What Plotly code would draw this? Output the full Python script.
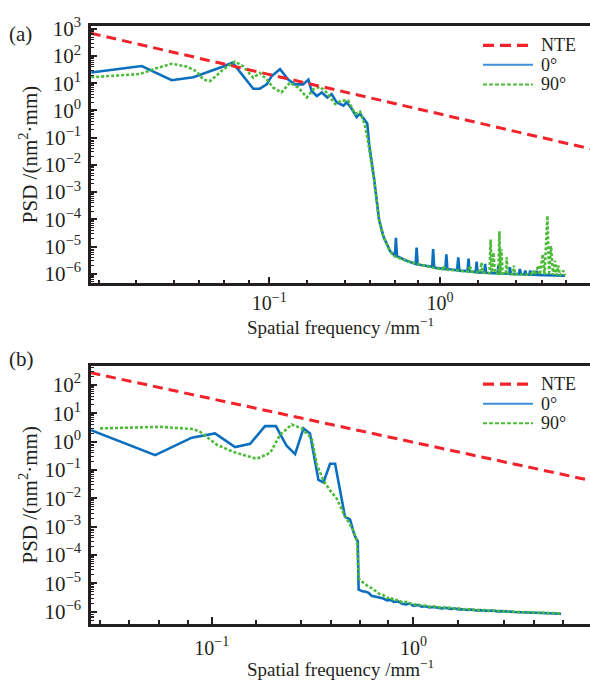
import plotly.graph_objects as go

# ---------------- panel (a) ----------------
nte_a_freq = [0.009, 7.6]
nte_a_psd = [692.0, 0.039]

a0_freq = [0.00905, 0.0179, 0.0268, 0.0359, 0.0537, 0.061, 0.0806, 0.088, 0.0966, 0.103,
           0.1156, 0.129, 0.1416, 0.158, 0.1695, 0.177, 0.19, 0.203, 0.219, 0.232,
           0.248, 0.272, 0.284, 0.304, 0.325, 0.34, 0.352, 0.375, 0.385, 0.398,
           0.41, 0.426, 0.44, 0.466, 0.51, 0.545, 0.552, 0.56, 0.638, 0.72,
           0.73, 0.74, 0.8, 0.9, 0.912, 0.925, 1.075, 1.09, 1.105, 1.26,
           1.28, 1.30, 1.45, 1.47, 1.49, 1.62, 1.64, 1.66, 1.82, 1.84,
           1.86, 2.17, 2.2, 2.23, 2.54, 2.57, 2.6, 2.9, 2.94, 2.98,
           3.12, 3.16, 3.2, 3.34, 3.38, 3.42, 3.64, 3.68, 3.72, 4.0,
           4.6, 5.4]
a0_psd = [25, 43, 12.9, 16.6, 41, 57, 6.3, 6.3, 9.1, 18,
          33, 13.7, 9.1, 9.1, 13.7, 5.2, 3.4, 4.6, 3.0, 4.0,
          2.0, 1.5, 2.0, 1.15, 0.57, 0.76, 0.57, 0.33, 0.055, 0.0138,
          3.5e-3, 5e-4, 9.5e-5, 2.4e-5, 6.9e-6, 4.6e-6, 2.1e-5, 4.4e-6, 3.0e-6, 2.3e-6,
          9.1e-6, 2.2e-6, 2.0e-6, 1.8e-6, 8.0e-6, 1.7e-6, 1.5e-6, 5.2e-6, 1.5e-6, 1.35e-6,
          4.0e-6, 1.3e-6, 1.25e-6, 3.6e-6, 1.2e-6, 1.15e-6, 2.8e-6, 1.12e-6, 1.1e-6, 2.3e-6,
          1.08e-6, 1.03e-6, 2.0e-6, 1.02e-6, 1.0e-6, 1.74e-6, 0.98e-6, 0.97e-6, 1.5e-6, 0.96e-6,
          0.95e-6, 1.3e-6, 0.94e-6, 0.93e-6, 1.3e-6, 0.93e-6, 0.92e-6, 1.3e-6, 0.91e-6, 0.9e-6,
          0.88e-6, 0.85e-6]

a90_freq = [0.00905, 0.0175, 0.0219, 0.0268, 0.0328, 0.0376, 0.041, 0.045, 0.0537, 0.063,
            0.0705, 0.0806, 0.088, 0.0966, 0.1055, 0.118, 0.132, 0.148, 0.166, 0.181,
            0.198, 0.217, 0.243, 0.265, 0.29, 0.318, 0.34, 0.363, 0.378, 0.39,
            0.40, 0.412, 0.427, 0.44, 0.466, 0.51, 0.545, 0.6, 0.7, 0.8,
            0.9, 1.0, 1.03, 1.05, 1.07, 1.3, 1.48, 1.5, 1.52, 1.72,
            1.75, 1.78, 1.95, 1.98, 2.01, 2.06, 2.1, 2.2, 2.23, 2.26,
            2.29, 2.33, 2.43, 2.46, 2.5, 2.68, 2.71, 2.75, 3.4, 3.52,
            3.6, 3.77, 3.85, 4.0, 4.1, 4.26, 4.36, 4.47, 4.6, 4.72,
            4.82, 4.93, 5.05, 5.28, 5.4]
a90_psd = [16.6, 22, 36, 52, 41, 27, 13.7, 12, 32, 63,
           41, 15.8, 24, 13.7, 6.9, 4.6, 10.5, 6.9, 3.0, 6.0,
           7.4, 4.6, 1.73, 2.3, 2.3, 0.76, 0.91, 0.29, 0.08, 0.02,
           8e-3, 2.8e-3, 4.5e-4, 9e-5, 2.3e-5, 6.5e-6, 4.3e-6, 3.4e-6, 2.5e-6, 2.0e-6,
           1.7e-6, 1.5e-6, 1.45e-6, 2.0e-6, 1.42e-6, 1.3e-6, 1.2e-6, 2.0e-6, 1.2e-6, 1.1e-6,
           2.6e-6, 1.1e-6, 1.05e-6, 1.8e-5, 1.1e-6, 6e-6, 1.05e-6, 1.0e-6, 3.6e-5, 1.0e-6,
           7.9e-6, 1.0e-6, 1.0e-6, 4e-6, 1.0e-6, 0.97e-6, 2e-6, 0.97e-6, 0.92e-6, 1.3e-6,
           0.92e-6, 2e-6, 0.92e-6, 5.2e-6, 0.9e-6, 1.35e-4, 0.9e-6, 1.05e-5, 0.9e-6, 3e-6,
           0.88e-6, 2e-6, 0.87e-6, 1.3e-6, 0.85e-6]

# ---------------- panel (b) ----------------
nte_b_freq = [0.025, 7.6]
nte_b_psd = [270.0, 0.042]

tail_freq = [0.56, 0.58, 0.6, 0.62, 0.65, 0.68, 0.71, 0.74, 0.77, 0.8,
             0.84, 0.88, 0.92, 0.96, 1.0, 1.05, 1.1, 1.15, 1.2, 1.26,
             1.32, 1.38, 1.45, 1.52, 1.6, 1.68, 1.76, 1.85, 1.94, 2.04,
             2.14, 2.25, 2.36, 2.48, 2.6, 2.73, 2.87, 3.0, 3.15, 3.3,
             3.47, 3.64, 3.82, 4.0, 4.2, 4.4, 4.62, 4.85, 5.1, 5.4]

b0_freq = [0.0252, 0.0524, 0.0796, 0.1038, 0.1305, 0.155, 0.1837, 0.208, 0.235, 0.259,
           0.285, 0.307, 0.338, 0.358, 0.386, 0.409, 0.458, 0.485, 0.51, 0.53,
           0.535] + tail_freq
b0_psd = [2.5, 0.33, 1.37, 1.93, 0.64, 0.83, 3.5, 3.5, 0.71, 0.36,
          2.9, 1.93, 0.044, 0.036, 0.165, 0.165, 2.2e-3, 1.8e-3, 5e-4, 3e-4,
          6e-6,
          5.2e-6, 5.0e-6, 4.6e-6, 3.6e-6, 3.3e-6, 3.1e-6, 2.9e-6, 2.5e-6, 2.6e-6, 2.2e-6,
          2.3e-6, 1.9e-6, 1.8e-6, 1.95e-6, 1.6e-6, 1.7e-6, 1.5e-6, 1.55e-6, 1.4e-6, 1.45e-6,
          1.35e-6, 1.3e-6, 1.36e-6, 1.25e-6, 1.28e-6, 1.2e-6, 1.22e-6, 1.15e-6, 1.18e-6, 1.1e-6,
          1.13e-6, 1.08e-6, 1.06e-6, 1.1e-6, 1.02e-6, 1.04e-6, 0.99e-6, 1.0e-6, 0.97e-6, 0.96e-6,
          0.98e-6, 0.93e-6, 0.94e-6, 0.91e-6, 0.92e-6, 0.89e-6, 0.9e-6, 0.87e-6, 0.86e-6, 0.84e-6]

b90_freq = [0.0279, 0.0555, 0.081, 0.0875, 0.106, 0.128, 0.167, 0.195, 0.218, 0.249,
            0.279, 0.313, 0.332, 0.358, 0.386, 0.417, 0.45, 0.47, 0.50, 0.525,
            0.535] + tail_freq
b90_psd = [2.9, 3.3, 2.75, 2.2, 0.77, 0.43, 0.245, 0.40, 1.7, 4.0,
           2.9, 1.3, 0.157, 0.042, 0.019, 0.0097, 3e-3, 1.7e-3, 8e-4, 3e-4,
           1.5e-5,
           11e-6, 9e-6, 7.5e-6, 6.8e-6, 5.5e-6, 4.2e-6, 3.8e-6, 3.0e-6, 3.2e-6, 2.5e-6,
           2.6e-6, 2.1e-6, 2.2e-6, 2.0e-6, 1.75e-6, 1.85e-6, 1.6e-6, 1.65e-6, 1.5e-6, 1.55e-6,
           1.4e-6, 1.45e-6, 1.33e-6, 1.38e-6, 1.27e-6, 1.3e-6, 1.2e-6, 1.25e-6, 1.15e-6, 1.18e-6,
           1.1e-6, 1.14e-6, 1.07e-6, 1.1e-6, 1.04e-6, 1.06e-6, 1.0e-6, 1.02e-6, 0.98e-6, 0.99e-6,
           0.95e-6, 0.97e-6, 0.93e-6, 0.94e-6, 0.91e-6, 0.92e-6, 0.89e-6, 0.9e-6, 0.88e-6, 0.86e-6]

# ---------------- ticks and labels ----------------
y_exps = list(range(-6, 4))
x_major = [0.1, 1.0]
x_major_text = ["10<sup>−1</sup>", "10<sup>0</sup>"]
x_minor = [0.01, 0.0166, 0.0278, 0.039, 0.0545, 0.0765, 0.166, 0.276, 0.39, 0.545,
           0.745, 1.67, 2.8, 3.95, 5.5]
legend_labels = ["NTE", "0°", "90°"]
x_title = "Spatial frequency /mm<sup>−1</sup>"
y_title = "PSD /(nm<sup>2</sup>·mm)"

RED = "#f2232a"
BLUE = "#0b6fbf"
GREEN = "#4dbb3a"
INK = "#231f20"
FONT = "'Liberation Serif', 'Times New Roman', Times, serif"

W, H = 590, 680


def sup(e):
    return "10<sup>" + (str(e) if e >= 0 else "−" + str(-e)) + "</sup>"


y_minor = [k * 10.0 ** e for e in range(-7, 4) for k in range(2, 10)]

fig = go.Figure()

panels = [
    ("x", "y", nte_a_freq, nte_a_psd, a0_freq, a0_psd, a90_freq, a90_psd),
    ("x2", "y2", nte_b_freq, nte_b_psd, b0_freq, b0_psd, b90_freq, b90_psd),
]
for xa, ya, nf, npsd, f0, p0, f90, p90 in panels:
    fig.add_trace(go.Scatter(x=f0, y=p0, xaxis=xa, yaxis=ya, mode="lines",
                             line=dict(color=BLUE, width=2.6), name="0°", showlegend=False))
    fig.add_trace(go.Scatter(x=f90, y=p90, xaxis=xa, yaxis=ya, mode="lines",
                             line=dict(color=GREEN, width=2.6, dash="3px,2px"),
                             name="90°", showlegend=False))
    fig.add_trace(go.Scatter(x=nf, y=npsd, xaxis=xa, yaxis=ya, mode="lines",
                             line=dict(color=RED, width=3, dash="10px,6px"),
                             name="NTE", showlegend=False))


def xaxis_cfg(rng, anchor, label_gap):
    return dict(
        type="log", range=rng, domain=[91 / W, 1.0], anchor=anchor,
        showline=True, linecolor=INK, linewidth=2.5, mirror=True,
        showgrid=False, zeroline=False,
        ticks="inside", ticklen=7, tickwidth=2, tickcolor=INK,
        tickmode="array", tickvals=x_major, ticktext=x_major_text,
        tickfont=dict(family=FONT, size=20, color=INK),
        ticklabelstandoff=label_gap,
        minor=dict(tickmode="array", tickvals=x_minor, ticks="inside",
                   ticklen=4, tickwidth=2, tickcolor=INK),
    )


def yaxis_cfg(rng, dom, anchor):
    return dict(
        type="log", range=rng, domain=dom, anchor=anchor,
        showline=True, linecolor=INK, linewidth=2.5, mirror=False,
        showgrid=False, zeroline=False,
        ticks="inside", ticklen=6, tickwidth=2, tickcolor=INK,
        tickmode="array", tickvals=[10.0 ** e for e in y_exps],
        ticktext=[sup(e) for e in y_exps],
        tickfont=dict(family=FONT, size=21, color=INK),
        ticklabelstandoff=3,
        minor=dict(tickmode="array", tickvals=y_minor, ticks="inside",
                   ticklen=3, tickwidth=1.3, tickcolor=INK),
        title=dict(text=y_title, font=dict(family=FONT, size=21, color=INK), standoff=2),
    )


fig.update_layout(
    width=W, height=H,
    margin=dict(l=0, r=0, t=0, b=0),
    paper_bgcolor="white", plot_bgcolor="white",
    showlegend=False,
    font=dict(family=FONT, color=INK),
    xaxis=xaxis_cfg([-2.0445, 0.879], "y", 0),
    yaxis=yaxis_cfg([-6.35, 3.115], [1 - 278 / H, 1 - 15 / H], "x"),
    xaxis2=xaxis_cfg([-1.599, 0.876], "y2", 4),
    yaxis2=yaxis_cfg([-6.43, 2.67], [1 - 625.7 / H, 1 - 362.3 / H], "x2"),
)

# x-axis titles under each panel
for ypx in (322, 671):
    fig.add_annotation(text=x_title, xref="paper", yref="paper",
                       x=(91 + 590) / 2 / W, y=1 - ypx / H,
                       xanchor="center", yanchor="middle", showarrow=False, borderpad=0,
                       font=dict(family=FONT, size=19, color=INK))

# panel letters
for txt, ypx in [("(a)", 23), ("(b)", 355)]:
    fig.add_annotation(text=txt, xref="paper", yref="paper", x=7 / W, y=1 - ypx / H,
                       xanchor="left", yanchor="middle", showarrow=False,
                       font=dict(family=FONT, size=21, color=INK))

# legends (one per panel)
styles = [dict(color=RED, width=3.2, dash="11px,6px"),
          dict(color="#3d8fd6", width=2),
          dict(color=GREEN, width=2, dash="4px,2px")]
for rows in ([35, 55, 75], [381, 401, 421]):
    for lab, st, ypx in zip(legend_labels, styles, rows):
        yy = 1 - ypx / H
        fig.add_shape(type="line", xref="paper", yref="paper",
                      x0=483 / W, x1=533 / W, y0=yy, y1=yy, line=st)
        fig.add_annotation(text=lab, xref="paper", yref="paper", x=540 / W, y=yy,
                           xanchor="left", yanchor="middle", showarrow=False,
                           borderpad=0,
                           font=dict(family=FONT, size=18, color=INK))

fig.write_html("out.html")
